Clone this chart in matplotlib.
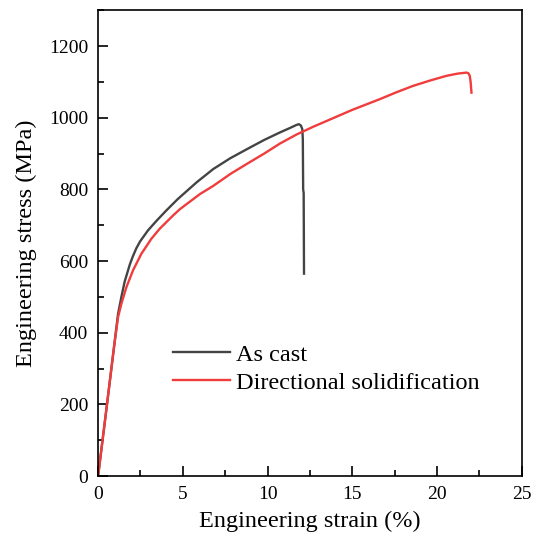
import matplotlib
matplotlib.use('Agg')
import matplotlib.pyplot as plt
from matplotlib.ticker import MultipleLocator

plt.rcParams['font.family'] = ['Liberation Serif', 'DejaVu Serif']

# strain (%) and stress (MPa)
cast_strain = [0.0, 0.5, 0.94, 1.18, 1.375, 1.57, 1.87, 2.05, 2.26, 2.48, 2.95, 3.46, 4.0, 4.7,
               5.82, 6.8, 7.8, 8.77, 9.8, 10.73, 11.3, 11.71, 11.85, 11.97, 12.05,
               12.08, 12.1, 12.13, 12.15]
cast_stress = [0, 190, 360, 453, 500, 543, 590, 613, 636, 655, 686, 713, 740, 773,
               820, 857, 887, 912, 938, 959, 971, 980, 982, 978, 968,
               940, 800, 790, 565]

ds_strain = [0.0, 0.5, 0.94, 1.18, 1.375, 1.67, 2.06, 2.55, 3.14, 3.63, 4.44, 4.83,
             6.01, 6.8, 7.8, 8.77, 9.8, 10.73, 11.7, 12.7, 13.68, 15.0, 16.63, 17.6,
             18.59, 19.6, 20.56, 21.2, 21.74, 21.85, 21.93, 21.98, 22.03]
ds_stress = [0, 190, 360, 444, 481, 527, 574, 620, 662, 690, 728, 745,
             787, 810, 843, 871, 900, 928, 953, 975, 995, 1022, 1052, 1071,
             1089, 1104, 1117, 1123, 1126, 1124, 1117, 1100, 1070]

fig = plt.figure(figsize=(5.33, 5.38), dpi=100)
ax = fig.add_axes([0.184, 0.115, 0.795, 0.866])

ax.plot(cast_strain, cast_stress, color='#444444', lw=1.7, label='As cast',
        solid_joinstyle='round')
ax.plot(ds_strain, ds_stress, color='#f03c3c', lw=1.7, label='Directional solidification',
        solid_joinstyle='round')

ax.set_xlim(0, 25)
ax.set_ylim(0, 1300)
ax.xaxis.set_major_locator(MultipleLocator(5))
ax.xaxis.set_minor_locator(MultipleLocator(2.5))
ax.yaxis.set_major_locator(MultipleLocator(200))
ax.yaxis.set_minor_locator(MultipleLocator(100))
ax.tick_params(which='both', direction='in', width=1.2, labelsize=14, pad=7)
ax.tick_params(which='major', length=7)
ax.tick_params(which='minor', length=4)
for s in ax.spines.values():
    s.set_linewidth(1.2)

ax.set_xlabel('Engineering strain (%)', fontsize=17.5, labelpad=6)
ax.set_ylabel('Engineering stress (MPa)', fontsize=17.5, labelpad=9)

ax.legend(loc='lower left', bbox_to_anchor=(0.125, 0.13), frameon=False, fontsize=17.5,
          handlelength=2.35, handletextpad=0.25, labelspacing=0.25)

fig.savefig('out.png', dpi=100)
